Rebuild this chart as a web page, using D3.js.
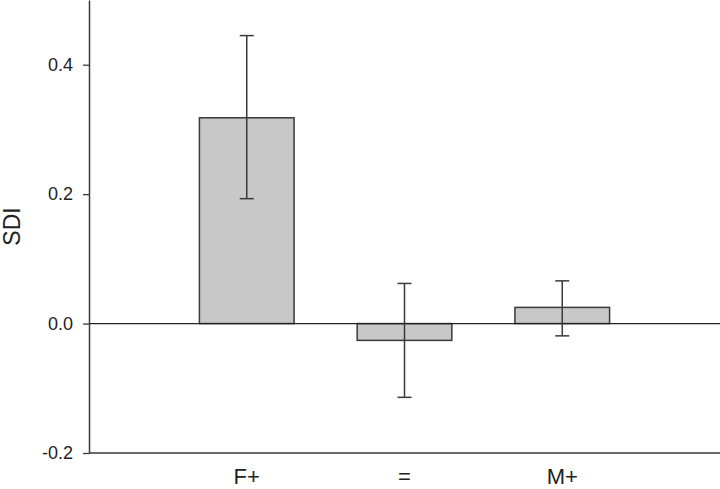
<!DOCTYPE html>
<html><head><meta charset="utf-8">
<script src="https://cdn.jsdelivr.net/npm/d3@7"></script>
<style>body{margin:0;background:#fff}svg{display:block}text{font-family:"Liberation Sans",Arial,sans-serif;fill:#222}</style>
</head><body>
<script>
const categories = ["F+", "=", "M+"];
const values = [0.318, -0.026, 0.025];
const errHigh = [0.445, 0.062, 0.066];
const errLow = [0.193, -0.114, -0.019];
const yTicks = [-0.2, 0.0, 0.2, 0.4];
const yLabel = "SDI";

(function () {
const W = 720, H = 489;
const mLeft = 89, mRight = 720, mTop = 0, mBottom = 453;
const svg = d3.select("body").append("svg").attr("width", W).attr("height", H);

const y = d3.scaleLinear().domain([-0.2, 0.5]).range([mBottom, mTop]);
const step = (mRight - mLeft) / 4;
const x = d3.scaleBand().domain(categories)
  .range([mLeft + step / 2, mRight - step / 2])
  .paddingInner(0.4).paddingOuter(0.2);

const stroke = "#3a3a3a";

svg.selectAll("rect.bar").data(values).join("rect")
  .attr("class", "bar")
  .attr("x", (d, i) => x(categories[i]))
  .attr("width", x.bandwidth())
  .attr("y", d => y(Math.max(0, d)))
  .attr("height", d => Math.abs(y(d) - y(0)))
  .attr("fill", "#c8c8c8").attr("stroke", stroke).attr("stroke-width", 1.5);

svg.append("line").attr("x1", mLeft).attr("x2", mRight).attr("y1", y(0)).attr("y2", y(0))
  .attr("stroke", "#222").attr("stroke-width", 1.3);

const cap = 7;
categories.forEach((c, i) => {
  const cx = x(c) + x.bandwidth() / 2;
  const g = svg.append("g").attr("stroke", stroke).attr("stroke-width", 1.5);
  g.append("line").attr("x1", cx).attr("x2", cx).attr("y1", y(errHigh[i])).attr("y2", y(errLow[i]));
  g.append("line").attr("x1", cx - cap).attr("x2", cx + cap).attr("y1", y(errHigh[i])).attr("y2", y(errHigh[i]));
  g.append("line").attr("x1", cx - cap).attr("x2", cx + cap).attr("y1", y(errLow[i])).attr("y2", y(errLow[i]));
});

const fmt = d => d3.format(".1f")(d).replace("\u2212", "-");
const yAxis = d3.axisLeft(y).tickValues(yTicks).tickFormat(fmt).tickSize(6).tickPadding(10).tickSizeOuter(0);
const ga = svg.append("g").attr("transform", `translate(${mLeft},0)`).call(yAxis);
ga.select(".domain").attr("stroke", stroke).attr("stroke-width", 1.5);
ga.selectAll(".tick line").attr("stroke", stroke).attr("stroke-width", 1.3);
ga.selectAll(".tick text").style("font-size", "18px").attr("fill", "#222")
  .style("font-family", '"Liberation Sans",Arial,sans-serif');

const xAxis = d3.axisBottom(x).tickSize(0).tickPadding(15);
const gx = svg.append("g").attr("transform", `translate(0,${mBottom})`).call(xAxis);
gx.select(".domain").attr("d", `M${mLeft},0H${mRight}`).attr("stroke", stroke).attr("stroke-width", 1.5);
gx.selectAll(".tick text").style("font-size", "22px").attr("fill", "#222")
  .style("font-family", '"Liberation Sans",Arial,sans-serif');

svg.append("text").attr("transform", `translate(19.5,${(mTop + mBottom) / 2}) rotate(-90)`)
  .attr("text-anchor", "middle").style("font-size", "23px").text(yLabel);
})();
</script>
</body></html>
